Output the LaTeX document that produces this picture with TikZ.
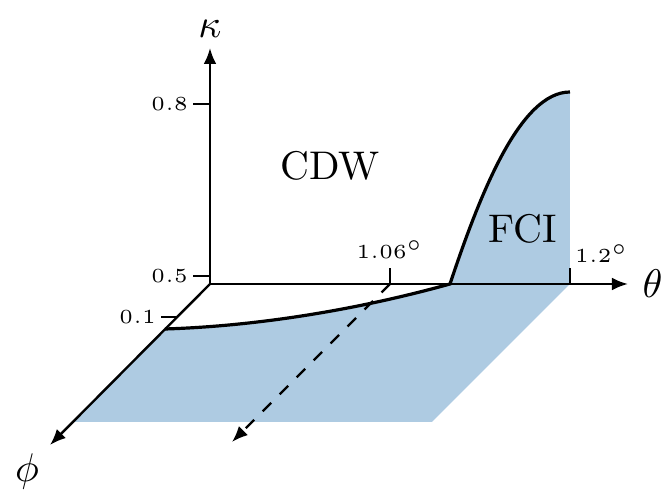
\documentclass[tikz,border=0pt]{standalone}
\usepackage{amsmath}
\usetikzlibrary{arrows.meta}
\definecolor{fciblue}{RGB}{174,203,226}

\begin{document}
\begin{tikzpicture}[x=0.25pt,y=0.25pt,>={Latex[length=4pt,width=3.2pt]},semithick]
    \tikzstyle{ticklabel}=[font=\tiny,inner sep=1pt]
    \tikzstyle{phase}=[font=\normalsize]
    \tikzstyle{boundary}=[line width=0.8pt,draw=black]

    \useasboundingbox (-210,-218) rectangle (456,284);

    % corners of the phase plane
    \coordinate (O)    at (0,0);
    \coordinate (kend) at (0,236);
    \coordinate (tend) at (418,0);
    \coordinate (pend) at (-160,-161);
    \coordinate (p1)   at (-45,-45);
    \coordinate (pl)   at (-137,-138);
    \coordinate (pr)   at (222,-138);
    \coordinate (t12)  at (360,0);
    \coordinate (top)  at (360,192);
    \coordinate (crit) at (240,0);
    \coordinate (t106) at (180,0);
    \coordinate (dend) at (22,-158);

    % FCI region
    \fill[fciblue] (p1) -- (pl) -- (pr) -- (t12) -- (top)
        .. controls (310,192) and (270,90) .. (crit)
        .. controls (150,-25) and (50,-42) .. (p1) -- cycle;
    \draw[boundary] (p1) .. controls (50,-42) and (150,-25) .. (crit)
        .. controls (270,90) and (310,192) .. (top);

    % axes
    \draw[->] (O) -- (kend) node[above=-1pt] (kappa) {$\kappa$};
    \draw[->] (O) -- (tend) node[right=0pt] (theta) {$\theta$};
    \draw[->] (O) -- (pend);
    \node (phi) at (-183,-188) {$\phi$};
    \draw[->,dashed] (t106) -- (dend);

    % ticks
    \draw (0,180) -- (-17,180) node[ticklabel,left] (k08) {$0.8$};
    \draw (0,8) -- (-17,8) node[ticklabel,left] (k05) {$0.5$};
    \draw (-33,-33) -- (-49,-33) node[ticklabel,left] (p01) {$0.1$};
    \draw (t106) -- ++(0,16) node[ticklabel,above=1pt] (l106) {$1.06^\circ$};
    \draw (t12) -- ++(0,16) node[ticklabel,anchor=south west,xshift=0pt,yshift=0pt] (l12) {$1.2^\circ$};

    % phases
    \node[phase] (cdw) at (120,118) {CDW};
    \node[phase] (fci) at (313,55) {FCI};
\end{tikzpicture}
\end{document}
